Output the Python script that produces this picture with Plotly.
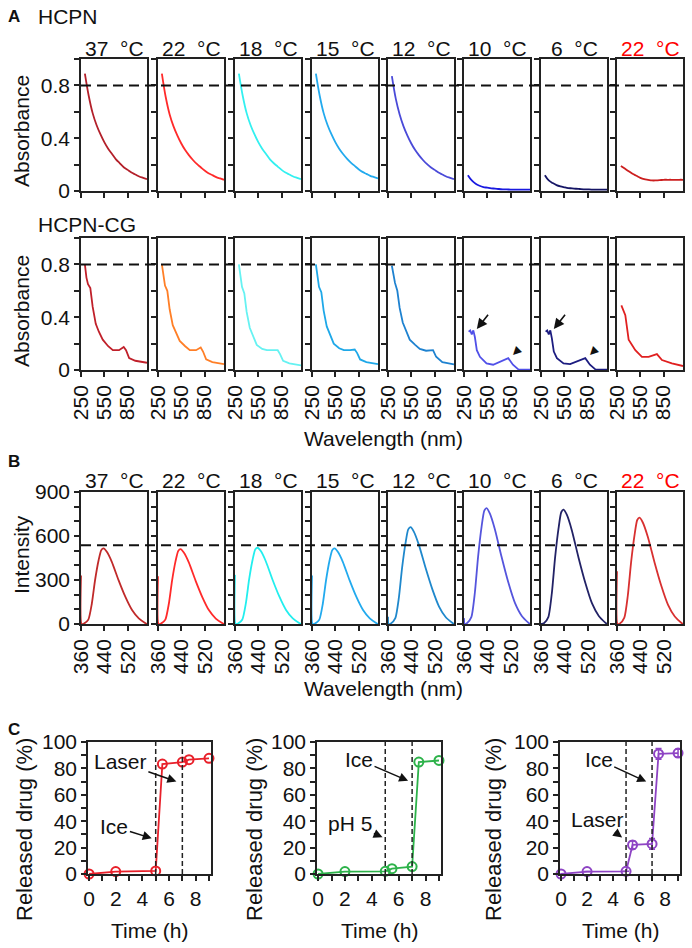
import plotly.graph_objects as go

W, H = 692, 948
FONT = "Arial, Liberation Sans, sans-serif"
FS = 21

# ---- data ----
temps = ["37", "22", "18", "15", "12", "10", "6", "22"]

# Panel A, HCPN (top row)
wl_hcpn = [300, 350, 400, 450, 500, 550, 600, 650, 700, 750, 800, 850, 900, 950, 1000, 1050, 1100]
abs_hcpn = [
    [0.89, 0.72, 0.59, 0.50, 0.43, 0.37, 0.32, 0.28, 0.24, 0.21, 0.18, 0.16, 0.14, 0.125, 0.11, 0.10, 0.09],
    [0.89, 0.71, 0.58, 0.49, 0.42, 0.36, 0.31, 0.27, 0.235, 0.205, 0.18, 0.155, 0.135, 0.12, 0.105, 0.095, 0.085],
    [0.89, 0.72, 0.59, 0.50, 0.43, 0.37, 0.32, 0.28, 0.24, 0.21, 0.185, 0.16, 0.14, 0.125, 0.11, 0.10, 0.09],
    [0.89, 0.72, 0.59, 0.50, 0.43, 0.37, 0.32, 0.28, 0.245, 0.215, 0.19, 0.165, 0.145, 0.13, 0.115, 0.105, 0.095],
    [0.87, 0.70, 0.58, 0.49, 0.42, 0.36, 0.31, 0.27, 0.235, 0.205, 0.18, 0.16, 0.14, 0.125, 0.11, 0.10, 0.09],
    [0.12, 0.08, 0.055, 0.04, 0.03, 0.025, 0.02, 0.018, 0.015, 0.013, 0.012, 0.011, 0.01, 0.01, 0.01, 0.01, 0.01],
    [0.12, 0.08, 0.06, 0.045, 0.035, 0.028, 0.022, 0.02, 0.017, 0.015, 0.013, 0.012, 0.011, 0.011, 0.01, 0.01, 0.01],
    [0.19, 0.17, 0.15, 0.13, 0.115, 0.10, 0.09, 0.085, 0.08, 0.08, 0.082, 0.085, 0.085, 0.085, 0.084, 0.085, 0.085],
]
col_hcpn = ["#B3202A", "#FF2A2A", "#33F0F0", "#22AAEE", "#4A4AD8", "#1A1AE0", "#151565", "#CC1F1F"]

# Panel A, HCPN-CG (bottom row)
wl_cg = [300, 320, 340, 370, 400, 440, 480, 530, 600, 660, 740, 800, 830, 870, 950, 1100]
abs_cg = {
    0: [0.80, 0.70, 0.65, 0.62, 0.48, 0.35, 0.29, 0.23, 0.18, 0.15, 0.15, 0.175, 0.15, 0.09, 0.07, 0.055],
    1: [0.80, 0.70, 0.64, 0.60, 0.46, 0.34, 0.28, 0.22, 0.18, 0.15, 0.15, 0.17, 0.14, 0.08, 0.06, 0.045],
    2: [0.80, 0.70, 0.63, 0.58, 0.44, 0.32, 0.26, 0.19, 0.16, 0.15, 0.15, 0.15, 0.12, 0.07, 0.05, 0.035],
    3: [0.80, 0.70, 0.63, 0.59, 0.45, 0.33, 0.27, 0.20, 0.165, 0.15, 0.15, 0.155, 0.13, 0.08, 0.06, 0.045],
    4: [0.79, 0.72, 0.66, 0.60, 0.47, 0.36, 0.30, 0.23, 0.19, 0.16, 0.146, 0.146, 0.15, 0.10, 0.06, 0.043],
}
wl_cg_cold = [310, 330, 350, 370, 390, 415, 455, 540, 625, 710, 820, 880, 950, 1100]
abs_cg_10 = [0.29, 0.30, 0.27, 0.30, 0.25, 0.15, 0.10, 0.05, 0.04, 0.06, 0.09, 0.04, 0.005, 0.003]
abs_cg_6 = [0.29, 0.30, 0.27, 0.30, 0.24, 0.14, 0.09, 0.05, 0.045, 0.065, 0.09, 0.04, 0.005, 0.003]
wl_cg_rewarm = [306, 336, 357, 400, 486, 571, 657, 764, 829, 957, 1086, 1100]
abs_cg_rewarm = [0.49, 0.44, 0.415, 0.23, 0.15, 0.10, 0.10, 0.12, 0.075, 0.05, 0.03, 0.03]
col_cg = ["#C0202A", "#FF7F27", "#66F2F2", "#1EA8E8", "#1E82D0", "#5050E8", "#1C1C80", "#E02020"]

# Panel B, fluorescence
wl_fl = [360, 362, 370, 385, 397, 408, 420, 429, 437, 448, 465, 488, 511, 534, 557, 580, 585]
fl = [
    [330, 0, 3, 30, 140, 300, 435, 503, 515, 492, 424, 299, 186, 95, 38, 5, 0],
    [325, 0, 3, 30, 138, 296, 430, 498, 510, 487, 420, 296, 184, 93, 37, 5, 0],
    [335, 0, 3, 31, 141, 302, 438, 508, 520, 497, 428, 302, 188, 96, 38, 5, 0],
    [330, 0, 3, 30, 140, 300, 435, 503, 515, 492, 424, 299, 186, 95, 38, 5, 0],
    [50, 0, 4, 40, 178, 383, 555, 645, 660, 630, 541, 383, 238, 119, 46, 7, 0],
    [40, 0, 5, 47, 213, 458, 664, 772, 790, 754, 648, 458, 284, 142, 55, 8, 0],
    [0, 0, 5, 47, 211, 452, 655, 762, 780, 745, 640, 452, 281, 140, 55, 8, 0],
    [360, 0, 4, 44, 196, 420, 609, 709, 725, 692, 595, 420, 261, 131, 51, 7, 0],
]
col_fl = ["#C02A2A", "#FF2A2A", "#22EEEE", "#22AAEE", "#1F88CC", "#5555DD", "#222266", "#D83030"]

# Panel C, drug release
time_h = [0, 2, 5, 5.5, 7, 7.5, 9]
rel_ice_laser = [0, 1.8, 2.3, 83.3, 84.8, 86.6, 87.6]
rel_ph_ice = [0, 1.8, 2, 4, 5.6, 84.8, 86]
rel_laser_ice = [0, 1.8, 2, 22, 22.8, 91, 91.6]
err_laser_ice = [0, 0, 0, 3, 4, 4, 3]
col_c = ["#E8202A", "#2DB24A", "#8E44C4"]

# ---- layout helpers ----
col_left = [81, 158, 235, 312, 388, 464, 541, 617]
col_w = 66
rows = {"a1": (59, 191), "a2": (238, 370), "b": (492, 624)}
c_boxes = [(88, 211), (317, 441), (560, 680)]
c_rows = (742, 874)

fig = go.Figure()
layout = {}
ann = []
shapes = []
axis_line = dict(showline=True, linecolor="#222", linewidth=1.5, mirror=True, automargin=False,
                 ticks="outside", ticklen=5, tickwidth=1.5, tickcolor="#222",
                 showgrid=False, zeroline=False,
                 tickfont=dict(family=FONT, size=FS, color="#111"))
n = [0]


def add_axes(x0, x1, y0, y1, xopt, yopt):
    n[0] += 1
    k = n[0]
    xa = dict(axis_line, domain=[x0 / W, x1 / W], anchor="y%d" % k, **xopt)
    ya = dict(axis_line, domain=[1 - y1 / H, 1 - y0 / H], anchor="x%d" % k, **yopt)
    layout["xaxis%d" % k] = xa
    layout["yaxis%d" % k] = ya
    return "x%d" % k, "y%d" % k


def txt(x, y, s, size=FS, color="#111", angle=0, bold=False, xanchor="center"):
    ann.append(dict(x=x / W, y=1 - y / H, xref="paper", yref="paper", text="<b>%s</b>" % s if bold else s,
                    showarrow=False, textangle=angle, xanchor=xanchor, yanchor="middle",
                    font=dict(family=FONT, size=size, color=color)))


abs_y = dict(range=[0, 1.0], tickvals=[0, 0.2, 0.4, 0.6, 0.8, 1.0],
             ticktext=["0", "", "0.4", "", "0.8", ""])
fl_y = dict(range=[0, 900], tickvals=[0, 100, 200, 300, 400, 500, 600, 700, 800, 900],
            ticktext=["0", "", "", "300", "", "", "600", "", "", "900"])

# Panel A top row
first = {}
for i in range(8):
    xl = col_left[i]
    xa, ya = add_axes(xl, xl + col_w, *rows["a1"],
                      dict(range=[250, 1100], tickvals=[250, 550, 850], showticklabels=False),
                      dict(abs_y, showticklabels=(i == 0)))
    if i == 0:
        first["a1"] = ya
    fig.add_trace(go.Scatter(x=wl_hcpn, y=abs_hcpn[i], xaxis=xa, yaxis=ya, mode="lines",
                             line=dict(color=col_hcpn[i], width=1.8, shape="spline"), showlegend=False))
    txt(xl + col_w / 2, 48, temps[i] + "\u00a0\u00a0°C", color="#FF0000" if i == 7 else "#111")

# Panel A bottom row
for i in range(8):
    xl = col_left[i]
    xa, ya = add_axes(xl, xl + col_w, *rows["a2"],
                      dict(range=[250, 1100], tickvals=[250, 550, 850], tickangle=-90),
                      dict(abs_y, showticklabels=(i == 0)))
    if i == 0:
        first["a2"] = ya
    if i < 5:
        xs, ys = wl_cg, abs_cg[i]
    elif i == 5:
        xs, ys = wl_cg_cold, abs_cg_10
    elif i == 6:
        xs, ys = wl_cg_cold, abs_cg_6
    else:
        xs, ys = wl_cg_rewarm, abs_cg_rewarm
    fig.add_trace(go.Scatter(x=xs, y=ys, xaxis=xa, yaxis=ya, mode="lines",
                             line=dict(color=col_cg[i], width=1.8), showlegend=False))
    if i in (5, 6):
        ann.append(dict(x=415, y=0.31, ax=575, ay=0.43, xref=xa, yref=ya, axref=xa, ayref=ya,
                        text="", showarrow=True, arrowhead=2, arrowsize=1.3, arrowwidth=1.6,
                        arrowcolor="#111"))
        # small arrowhead pointing at the NIR band
        ann.append(dict(x=905, y=0.135, xref=xa, yref=ya, text="\u25B2", showarrow=False,
                        textangle=-135, font=dict(family="DejaVu Sans", size=11, color="#111")))

# Panel B
for i in range(8):
    xl = col_left[i]
    xa, ya = add_axes(xl, xl + col_w, *rows["b"],
                      dict(range=[360, 585], tickvals=[360, 440, 520], tickangle=-90),
                      dict(fl_y, showticklabels=(i == 0)))
    if i == 0:
        first["b"] = ya
    fig.add_trace(go.Scatter(x=wl_fl, y=fl[i], xaxis=xa, yaxis=ya, mode="lines",
                             line=dict(color=col_fl[i], width=1.8, shape="spline", smoothing=0.6),
                             showlegend=False))
    txt(xl + col_w / 2, 481, temps[i] + "\u00a0\u00a0°C", color="#FF0000" if i == 7 else "#111")

# dashed reference lines across rows
for key, yv in (("a1", 0.8), ("a2", 0.8), ("b", 537)):
    shapes.append(dict(type="line", xref="paper", yref=first[key], x0=col_left[0] / W,
                       x1=(col_left[-1] + col_w) / W, y0=yv, y1=yv,
                       line=dict(color="#111", width=2, dash="10px,6px")))

# Panel C
c_series = [rel_ice_laser, rel_ph_ice, rel_laser_ice]
c_notes = [
    [("Laser", 2.35, 85, 6.55, 70), ("Ice", 1.9, 36, 4.7, 27)],
    [("Ice", 3.05, 86.6, 6.7, 70.6), ("pH 5", 2.4, 38.5, 4.8, 27.8)],
    [("Ice", 2.9, 86.6, 6.55, 70), ("Laser", 2.8, 41.5, 4.7, 27.6)],
]
for j in range(3):
    x0, x1 = c_boxes[j]
    xa, ya = add_axes(x0, x1, *c_rows,
                      dict(range=[-0.08, 9.15], tickvals=[0, 2, 4, 6, 8],
                           minor=dict(dtick=1, tick0=0, ticks="outside", ticklen=5, tickwidth=1.5, tickcolor="#222")),
                      dict(range=[0, 100], tickvals=[0, 20, 40, 60, 80, 100],
                           minor=dict(dtick=10, tick0=0, ticks="outside", ticklen=5, tickwidth=1.5, tickcolor="#222")))
    err = dict(type="data", array=err_laser_ice, color=col_c[j], thickness=1.5, width=3) if j == 2 else None
    fig.add_trace(go.Scatter(x=time_h, y=c_series[j], xaxis=xa, yaxis=ya, mode="lines+markers",
                             line=dict(color=col_c[j], width=1.8), error_y=err, cliponaxis=False,
                             marker=dict(symbol="circle-open", size=9, line=dict(width=2, color=col_c[j])),
                             showlegend=False))
    for xv in (5, 7):
        shapes.append(dict(type="line", xref=xa, yref=ya + " domain", x0=xv, x1=xv, y0=0, y1=1,
                           line=dict(color="#222", width=1.5, dash="5px,3px")))
    for label, tx, ty, hx, hy in c_notes[j]:
        ann.append(dict(x=hx, y=hy, ax=tx, ay=ty, xref=xa, yref=ya, axref=xa, ayref=ya,
                        text=label, showarrow=True, arrowhead=2, arrowsize=1.2, arrowwidth=1.5,
                        arrowcolor="#111", font=dict(family=FONT, size=FS, color="#111")))
    txt((x0 + x1) / 2, 930, "Time (h)")

for xc in (24, 254, 493):
    txt(xc, 830, "Released drug (%)", size=22, angle=-90)

# axis titles and panel labels
txt(21, 131, "Absorbance", angle=-90)
txt(21, 311, "Absorbance", angle=-90)
txt(21, 555, "Intensity", angle=-90)
txt(383, 438, "Wavelength (nm)")
txt(383, 688, "Wavelength (nm)")
txt(14, 16, "A", size=17, bold=True)
txt(36, 17, "HCPN", xanchor="left")
txt(36, 225, "HCPN-CG", xanchor="left")
txt(14, 462, "B", size=17, bold=True)
txt(14, 729, "C", size=17, bold=True)

fig.update_layout(width=W, height=H, margin=dict(l=0, r=0, t=0, b=0),
                  paper_bgcolor="white", plot_bgcolor="white",
                  annotations=ann, shapes=shapes, **layout)
fig.write_html("out.html", config={"displayModeBar": False},
               post_script="document.body.style.margin='0';")
